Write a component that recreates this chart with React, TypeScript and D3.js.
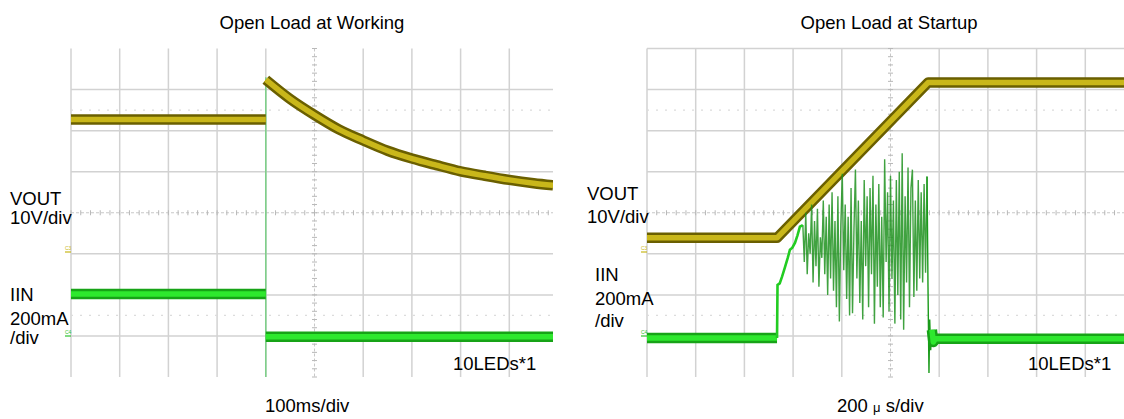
import React from "react";
import * as d3 from "d3";

const W = 1124;
const H = 419;

// ---- text ----
const titles = ["Open Load at Working", "Open Load at Startup"];
const leftTimeBase = "100ms/div";
const rightTimeBaseParts = ["200 ", "μ", " s/div"];
const loadLabel = "10LEDs*1";
const voutLabels = ["VOUT", "10V/div"];
const iinLabels = ["IIN", "200mA", "/div"];

// ---- left panel (time in ms, values in divisions from screen centre) ----
const workVoutPreT = [0, 400];
const workVoutPreV = [2.27, 2.27];
const workVoutPostT = [400, 450, 500, 550, 600, 650, 700, 750, 800, 850, 900, 950, 990];
const workVoutPostV = [3.24, 2.77, 2.38, 2.03, 1.76, 1.51, 1.32, 1.16, 1.01, 0.9, 0.8, 0.72, 0.67];
const workIinPreT = [0, 400];
const workIinPreV = [-1.98, -1.98];
const workIinPostT = [400, 990];
const workIinPostV = [-3.02, -3.02];
const workStepT = 400;
const workStepV = [3.3, -4];

// ---- right panel (time in µs, values in divisions) ----
const startVoutT = [0, 534, 1154, 1960];
const startVoutV = [-0.61, -0.61, 3.17, 3.17];
const startIinPreT = [0, 534];
const startIinPreV = [-3.05, -3.05];
const startIinRiseT = [534, 536, 545, 555, 567, 578, 587, 597, 608, 618, 628, 640];
const startIinRiseV = [-3.05, -1.76, -1.72, -1.55, -1.32, -1.1, -0.9, -0.85, -0.73, -0.55, -0.34, -0.3];
const startIinBurstT0 = 640;
const startIinBurstDt = 6;
const startIinBurstV = [
  -0.3, -1.2, 0.0, -1.5, -0.5, -1.0, 0.2, -1.7, -0.2, -1.3, 0.1, -1.8, -0.6, -1.1, 0.3, -1.5, -0.1, -2.0, 0.2, -1.6,
  0.5, -1.9, -0.2, -2.3, 0.4, -2.65, -0.3, 0.95, -1.4, 0.2, -2.1, -0.1, -2.5, 0.6, -2.45, -0.4, 1.05, -1.6, 0.3, -2.2,
  -0.2, -2.6, 0.8, -1.3, 0.4,
  -2.3, 0.6, -1.5, 0.9, -2.7, 0.2, -1.8, 0.7, -2.3, -0.1, -2.55, 1.3, -1.2, 0.5, -2.4, 0.9, -1.6, 0.3, -2.7, 0.8,
  -2.0, 1.0, -2.6, 1.45, -2.85, 0.4, -1.7, 1.1, -2.3, 0.6, 1.05, -2.05, 0.3, -1.9, 0.8, -1.6, 0.5, -1.7, 0.7, -1.46, 0.88,
];
const startIinEndT = [1150, 1154, 1158, 1161, 1165, 1170, 1176, 1184, 1960];
const startIinEndV = [0.88, -1.8, -3.9, -2.6, -3.35, -2.85, -3.15, -3.07, -3.07];

// ---- colours ----
const gridColor = "#d2d2d2";
const voutOuter = "#6a5f00";
const voutInner = "#c9b71a";
const iinOuter = "#17a317";
const iinInner = "#2ee82e";
const burstColor = "#1f921f";

const FONT = "'Liberation Sans', Arial, sans-serif";

type PanelProps = {
  x0: number;
  x1: number;
  tMax: number;
  topLine: boolean;
  id: string;
  children: (x: d3.ScaleLinear<number, number>, y: d3.ScaleLinear<number, number>) => React.ReactNode;
};

const yTop = 48.5;
const yBot = 377;

function Panel({ x0, x1, tMax, topLine, id, children }: PanelProps) {
  const x = d3.scaleLinear().domain([0, tMax]).range([x0, x0 + 487]);
  const y = d3.scaleLinear().domain([-4, 4]).range([yBot, yTop]);
  const divT = tMax / 10;
  const vLines = d3.range(0, 11).map((i) => i * divT).filter((t) => x(t) <= x1 + 0.5);
  const hLines = d3.range(-3, 4);
  const cx = x(divT * 5);
  const cy = y(0);
  const vTicks = d3.range(-20, 21).map((i) => i / 5);
  const hTicks = d3.range(0, 51).map((i) => (i * divT) / 5).filter((t) => x(t) <= x1);
  return (
    <g>
      <defs>
        <clipPath id={id}>
          <rect x={x0} y={yTop - 2} width={x1 - x0} height={yBot - yTop + 4} />
        </clipPath>
      </defs>
      <g>
        {vLines.map((t, i) =>
          i === 5 ? null : (
            <line key={"v" + i} x1={x(t)} x2={x(t)} y1={yTop} y2={yBot} stroke={gridColor} strokeWidth={1.5} />
          )
        )}
        {hLines.map((d) =>
          d === 0 ? null : (
            <line key={"h" + d} x1={x0} x2={x1} y1={y(d)} y2={y(d)} stroke={gridColor} strokeWidth={1.5} />
          )
        )}
        {topLine && <line x1={x0} x2={x1} y1={yTop} y2={yTop} stroke={gridColor} strokeWidth={1.5} />}
        {[2.5, -2.5].map((d) => (
          <line key={"dot" + d} x1={x0} x2={x1} y1={y(d)} y2={y(d)} stroke="#dcdcdc" strokeWidth={1.2} strokeDasharray="2,7" />
        ))}
        <line x1={cx} x2={cx} y1={yTop} y2={yBot} stroke="#c8c8c8" strokeWidth={1} strokeDasharray="3,2" />
        <line x1={x0} x2={x1} y1={cy} y2={cy} stroke="#c8c8c8" strokeWidth={1} strokeDasharray="3,2" />
        {vTicks.map((d) => (
          <line key={"vt" + d} x1={cx - 2.5} x2={cx + 2.5} y1={y(d)} y2={y(d)} stroke="#b8b8b8" strokeWidth={1} />
        ))}
        {hTicks.map((t, i) => (
          <line key={"ht" + i} x1={x(t)} x2={x(t)} y1={cy - 2.5} y2={cy + 2.5} stroke="#b8b8b8" strokeWidth={1} />
        ))}
      </g>
      <g clipPath={`url(#${id})`}>{children(x, y)}</g>
    </g>
  );
}

function band(key: string, path: string | null, outer: string, inner: string, wOuter = 10.5, wInner = 5.5) {
  return (
    <g key={key}>
      <path d={path || ""} fill="none" stroke={outer} strokeWidth={wOuter} strokeLinejoin="round" />
      <path d={path || ""} fill="none" stroke={inner} strokeWidth={wInner} strokeLinejoin="round" />
    </g>
  );
}

function zip(ts: number[], vs: number[]): [number, number][] {
  return ts.map((t, i) => [t, vs[i]]);
}

export default function App() {
  const burst: [number, number][] = startIinBurstV.map((v, i) => [startIinBurstT0 + i * startIinBurstDt, v]);

  return (
    <svg width={W} height={H} style={{ display: "block", position: "absolute", left: 0, top: 0, background: "#fff" }}
      fontFamily={FONT}>
      <rect x={0} y={0} width={W} height={H} fill="#fff" />
      <Panel x0={71} x1={553} tMax={1000} topLine={false} id="clipL">
        {(x, y) => {
          const lin = d3.line<[number, number]>().x((d) => x(d[0])).y((d) => y(d[1]));
          const smooth = d3
            .line<[number, number]>()
            .x((d) => x(d[0]))
            .y((d) => y(d[1]))
            .curve(d3.curveMonotoneX);
          return (
            <>
              <line x1={x(workStepT)} x2={x(workStepT)} y1={y(workStepV[0])} y2={y(workStepV[1])}
                stroke="#7fcf8a" strokeWidth={1.6} />
              {band("lvp", lin(zip(workVoutPreT, workVoutPreV)), voutOuter, voutInner)}
              {band("lvq", smooth(zip(workVoutPostT, workVoutPostV)), voutOuter, voutInner)}
              {band("lip", lin(zip(workIinPreT, workIinPreV)), iinOuter, iinInner)}
              {band("liq", lin(zip(workIinPostT, workIinPostV)), iinOuter, iinInner)}
            </>
          );
        }}
      </Panel>
      <Panel x0={647} x1={1124} tMax={2000} topLine={true} id="clipR">
        {(x, y) => {
          const lin = d3.line<[number, number]>().x((d) => x(d[0])).y((d) => y(d[1]));
          return (
            <>
              {band("rv", lin(zip(startVoutT, startVoutV)), voutOuter, voutInner)}
              <path d={lin(burst) || ""} fill="none" stroke={burstColor} strokeWidth={1.4} opacity={0.85} />
              {band("rip", lin(zip(startIinPreT, startIinPreV)), iinOuter, iinInner)}
              <path d={lin(zip(startIinRiseT, startIinRiseV)) || ""} fill="none" stroke="#22cc22" strokeWidth={2.6} />
              <path d={lin(zip(startIinEndT.slice(0, 7), startIinEndV.slice(0, 7))) || ""} fill="none"
                stroke="#1a9a1a" strokeWidth={1.4} />
              {band("rie", lin(zip(startIinEndT.slice(5), startIinEndV.slice(5))), iinOuter, iinInner)}
            </>
          );
        }}
      </Panel>

      {[
        [65, 250, "C3", "#c9b71a"],
        [65, 334, "C4", "#2fc42f"],
        [641, 250, "C3", "#c9b71a"],
        [641, 334, "C4", "#2fc42f"],
      ].map(([mx, my, t, c], i) => (
        <g key={"m" + i}>
          <text x={mx as number} y={my as number} fontSize={5} fill={c as string}>{t as string}</text>
          <line x1={mx as number} x2={(mx as number) + 6} y1={(my as number) + 2} y2={(my as number) + 2}
            stroke={c as string} strokeWidth={1.2} />
        </g>
      ))}

      <text x={312} y={29} textAnchor="middle" fontSize={18.5} fill="#000">{titles[0]}</text>
      <text x={889} y={29} textAnchor="middle" fontSize={18.5} fill="#000">{titles[1]}</text>

      <g fontSize={18.5} fill="#000">
        <text x={10} y={205}>{voutLabels[0]}</text>
        <text x={10} y={224}>{voutLabels[1]}</text>
        <text x={10} y={301}>{iinLabels[0]}</text>
        <text x={10} y={325}>{iinLabels[1]}</text>
        <text x={10} y={344}>{iinLabels[2]}</text>

        <text x={587} y={200}>{voutLabels[0]}</text>
        <text x={587} y={223}>{voutLabels[1]}</text>
        <text x={595} y={281}>{iinLabels[0]}</text>
        <text x={595} y={305}>{iinLabels[1]}</text>
        <text x={595} y={327}>{iinLabels[2]}</text>

        <text x={453} y={370}>{loadLabel}</text>
        <text x={1028} y={370}>{loadLabel}</text>

        <text x={265} y={412}>{leftTimeBase}</text>
        <text x={837} y={412}>
          <tspan>{rightTimeBaseParts[0]}</tspan>
          <tspan fontSize={13}>{rightTimeBaseParts[1]}</tspan>
          <tspan>{rightTimeBaseParts[2]}</tspan>
        </text>
      </g>
    </svg>
  );
}
